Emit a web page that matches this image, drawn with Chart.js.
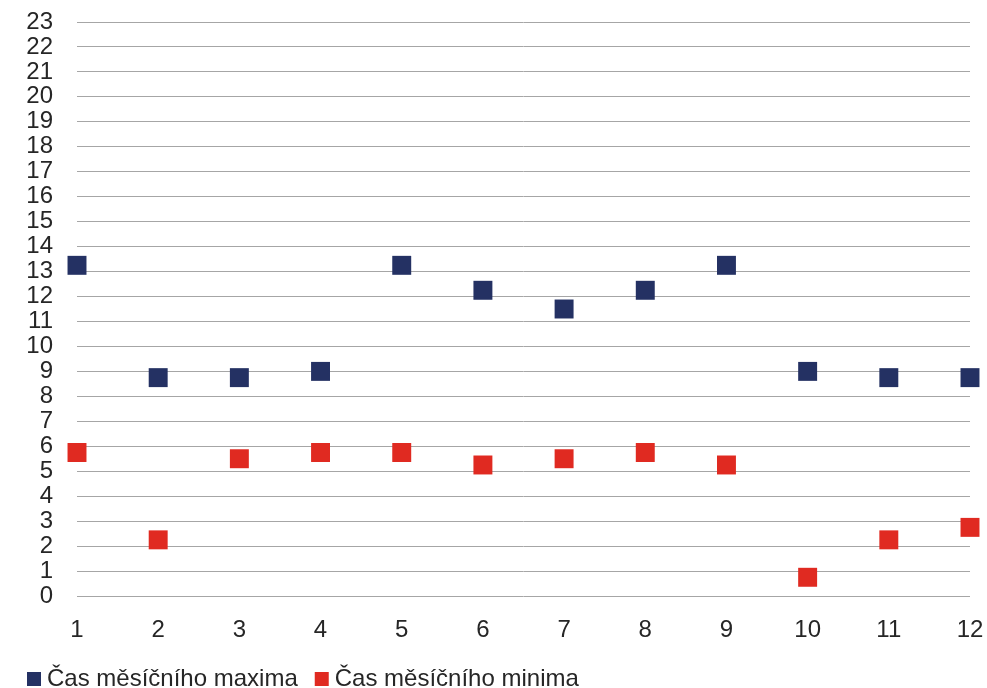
<!DOCTYPE html>
<html>
<head>
<meta charset="utf-8">
<script src="https://cdn.jsdelivr.net/npm/chart.js@4"></script>
<style>
html,body{margin:0;padding:0;background:#fff;}
#wrap{width:987px;height:688px;position:relative;}
</style>
</head>
<body>
<div id="wrap"><canvas id="c" width="987" height="688"></canvas></div>
<script>
const months = [1, 2, 3, 4, 5, 6, 7, 8, 9, 10, 11, 12];
const maxLabel = 'Čas měsíčního maxima';
const minLabel = 'Čas měsíčního minima';
const maxTimes = [13.25, 8.75, 8.75, 9, 13.25, 12.25, 11.5, 12.25, 13.25, 9, 8.75, 8.75];
const minTimes = [5.75, 2.25, 5.5, 5.75, 5.75, 5.25, 5.5, 5.75, 5.25, 0.75, 2.25, 2.75];
const yMin = 0, yMax = 23, yStep = 1;

const FONT = '"Liberation Sans", Arial, sans-serif';
const TEXT = '#262626';

function pts(vals){ return months.map((m,i)=>({x:m, y:vals[i]})); }

new Chart(document.getElementById('c'), {
  type: 'scatter',
  data: {
    datasets: [
      { label: maxLabel, data: pts(maxTimes), backgroundColor: '#243163', borderColor: '#243163',
        borderWidth: 0, pointStyle: 'rect', pointRadius: 13.4, pointHoverRadius: 13.4, clip: false },
      { label: minLabel, data: pts(minTimes), backgroundColor: '#e02a21', borderColor: '#e02a21',
        borderWidth: 0, pointStyle: 'rect', pointRadius: 13.4, pointHoverRadius: 13.4, clip: false }
    ]
  },
  options: {
    responsive: false,
    animation: false,
    events: [],
    layout: { padding: { left: 10, right: 17, top: 22, bottom: -13 } },
    plugins: {
      tooltip: { enabled: false },
      legend: {
        position: 'bottom',
        align: 'start',
        labels: {
          usePointStyle: true,
          boxWidth: 2,
          boxHeight: 14,
          padding: 23,
          color: TEXT,
          font: { family: FONT, size: 24 }
        }
      }
    },
    scales: {
      x: {
        type: 'linear',
        min: 1, max: 12,
        offset: false,
        grid: { display: false, drawTicks: false },
        border: { display: false },
        ticks: { stepSize: 1, padding: 20, color: TEXT, font: { family: FONT, size: 24 } },
        afterFit: (s) => { s.height = 48; s.paddingLeft = 0; s.paddingRight = 0; }
      },
      y: {
        min: yMin, max: yMax,
        grid: { color: '#a6a6a6', lineWidth: 1, drawTicks: false },
        border: { display: false },
        ticks: { stepSize: yStep, autoSkip: false, padding: 24, color: TEXT, font: { family: FONT, size: 24, lineHeight: 1 } },
        afterFit: (s) => { s.width = 67; s.paddingTop = 0; s.paddingBottom = 0; }
      }
    }
  }
});
</script>
</body>
</html>
